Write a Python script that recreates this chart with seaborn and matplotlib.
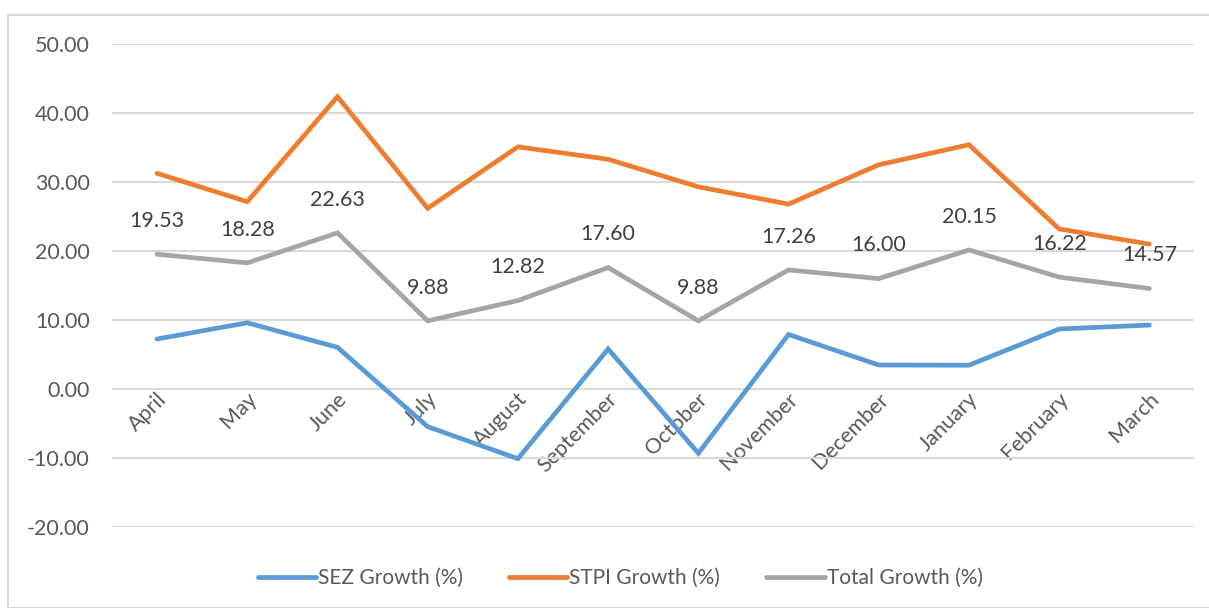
import pandas as pd
import matplotlib.pyplot as plt
import matplotlib.ticker as mticker
import matplotlib.transforms as mtransforms
from matplotlib.patches import Rectangle
import seaborn as sns

# chart data
months = ["April", "May", "June", "July", "August", "September",
          "October", "November", "December", "January", "February", "March"]
sez_growth = [7.25, 9.60, 6.04, -5.46, -10.10, 5.80, -9.30, 7.90, 3.48, 3.45, 8.70, 9.27]
stpi_growth = [31.26, 27.15, 42.36, 26.19, 35.10, 33.30, 29.30, 26.80, 32.50, 35.40, 23.20, 21.00]
total_growth = [19.53, 18.28, 22.63, 9.88, 12.82, 17.60, 9.88, 17.26, 16.00, 20.15, 16.22, 14.57]
series_names = ["SEZ Growth (%)", "STPI Growth (%)", "Total Growth (%)"]
colors = ["#5B9BD5", "#ED7D31", "#A5A5A5"]

df = pd.DataFrame({
    "month": months * 3,
    "value": sez_growth + stpi_growth + total_growth,
    "series": [series_names[0]] * 12 + [series_names[1]] * 12 + [series_names[2]] * 12,
})

sns.set_style("white")
plt.rcParams["font.family"] = ["Lato", "DejaVu Sans"]
text_col = "#595959"

fig = plt.figure(figsize=(12.09, 6.08), dpi=100)
ax = fig.add_axes([0.0926, 0.1332, 0.8954, 0.7944])

# outer chart border
fig.patches.append(Rectangle((8 / 1209, 0), 1.2, 1 - 15 / 608, transform=fig.transFigure,
                             fill=False, edgecolor="#d9d9d9", linewidth=1.5, zorder=0))

sns.lineplot(data=df, x="month", y="value", hue="series", palette=colors,
             sort=False, linewidth=3.4, ax=ax, legend=True)
for ln in ax.lines:
    ln.set_solid_capstyle("round")
    ln.set_solid_joinstyle("miter")

# data labels on the total series
for i, v in enumerate(total_growth):
    ax.annotate(f"{v:.2f}", (i, v), xytext=(0, 24), textcoords="offset points",
                ha="center", va="center", fontsize=15.5, color="#404040")

ax.set_ylim(-20, 50)
ax.set_xlim(-0.5, len(months) - 0.5)
ax.yaxis.set_major_locator(mticker.MultipleLocator(10))
ax.yaxis.set_major_formatter(mticker.FormatStrFormatter("%.2f"))
ax.grid(axis="y", color="#d9d9d9", linewidth=1.5)
ax.set_axisbelow(True)
for s in ax.spines.values():
    s.set_visible(False)
ax.spines["bottom"].set_position(("data", 0))
ax.tick_params(axis="y", length=0, labelsize=15.5, labelcolor=text_col, pad=16)
ax.tick_params(axis="x", length=0, labelsize=15.5, labelcolor=text_col, pad=2)
ax.set_xlabel("")
ax.set_ylabel("")
shift = mtransforms.ScaledTranslation(6 / 100, -4 / 100, fig.dpi_scale_trans)
for lab in ax.get_xticklabels():
    lab.set_rotation(45)
    lab.set_rotation_mode("anchor")
    lab.set_ha("right")
    lab.set_va("center")
    lab.set_transform(lab.get_transform() + shift)

ax.get_legend().remove()
handles = ax.lines[:3]
fig.legend(handles, series_names, loc="center", bbox_to_anchor=(0.513, 0.049), ncol=3,
           frameon=False, fontsize=15, labelcolor=text_col, handlelength=2.8,
           handletextpad=0.1, columnspacing=2.2)

fig.savefig("out.png", dpi=100)
